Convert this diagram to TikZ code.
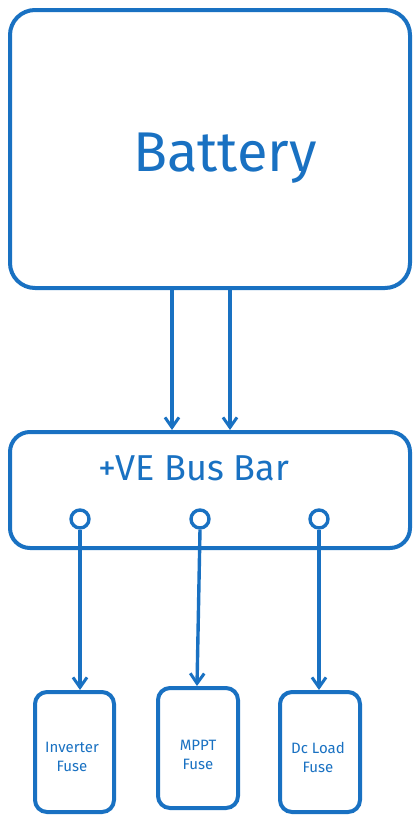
\documentclass[tikz,border=0pt]{standalone}
\usepackage{fontspec}
\setmainfont{Fira Sans}
\usetikzlibrary{arrows.meta}
\definecolor{ink}{HTML}{1971C2}
\tikzset{
  box/.style={draw=ink, line width=4pt, fill=white},
  conn/.style={draw=ink, line width=3.4pt, -{Straight Barb[length=10pt,width=14pt,line width=3pt]}},
  pin/.style={draw=ink, line width=3.4pt, circle, minimum size=18pt, inner sep=0pt, fill=white},
  lbl/.style={text=ink, align=center}
}
\begin{document}
\begin{tikzpicture}[x=1pt,y=-1pt]
\useasboundingbox (0,0) rectangle (420,823);
% battery
\draw[box, rounded corners=25pt] (10,10) rectangle (410,288);
\node[lbl, font=\fontsize{56}{60}\selectfont] (bat) at (225,158) {Battery};
\coordinate (b1) at (172,290);
\coordinate (b2) at (230,290);
% bus bar
\draw[box, rounded corners=20pt] (10,432) rectangle (410,548);
\node[lbl, font=\fontsize{36}{40}\selectfont] (bus) at (194,468) {+VE Bus Bar};
\coordinate (t1) at (172,430);
\coordinate (t2) at (230,430);
\draw[conn] (b1) -- (t1);
\draw[conn] (b2) -- (t2);
% pins
\node[pin] (p1) at (80,519) {};
\node[pin] (p2) at (200,519) {};
\node[pin] (p3) at (319,519) {};
% fuses
\draw[box, rounded corners=12pt] (35,692) rectangle (114,812);
\draw[box, rounded corners=12pt] (158,688) rectangle (238,808);
\draw[box, rounded corners=12pt] (280,692) rectangle (360,812);
\node[lbl, font=\fontsize{15}{19}\selectfont] (f1) at (72,757) {Inverter\\Fuse};
\node[lbl, font=\fontsize{15}{19}\selectfont] (f2) at (198,755) {MPPT\\Fuse};
\node[lbl, font=\fontsize{15}{19}\selectfont] (f3) at (318,757) {Dc Load\\Fuse};
\coordinate (e1) at (80,690);
\coordinate (e2) at (197,686);
\coordinate (e3) at (319,690);
\draw[conn] (p1.south) -- (e1);
\draw[conn] (p2.south) -- (e2);
\draw[conn] (p3.south) -- (e3);
\end{tikzpicture}
\end{document}
